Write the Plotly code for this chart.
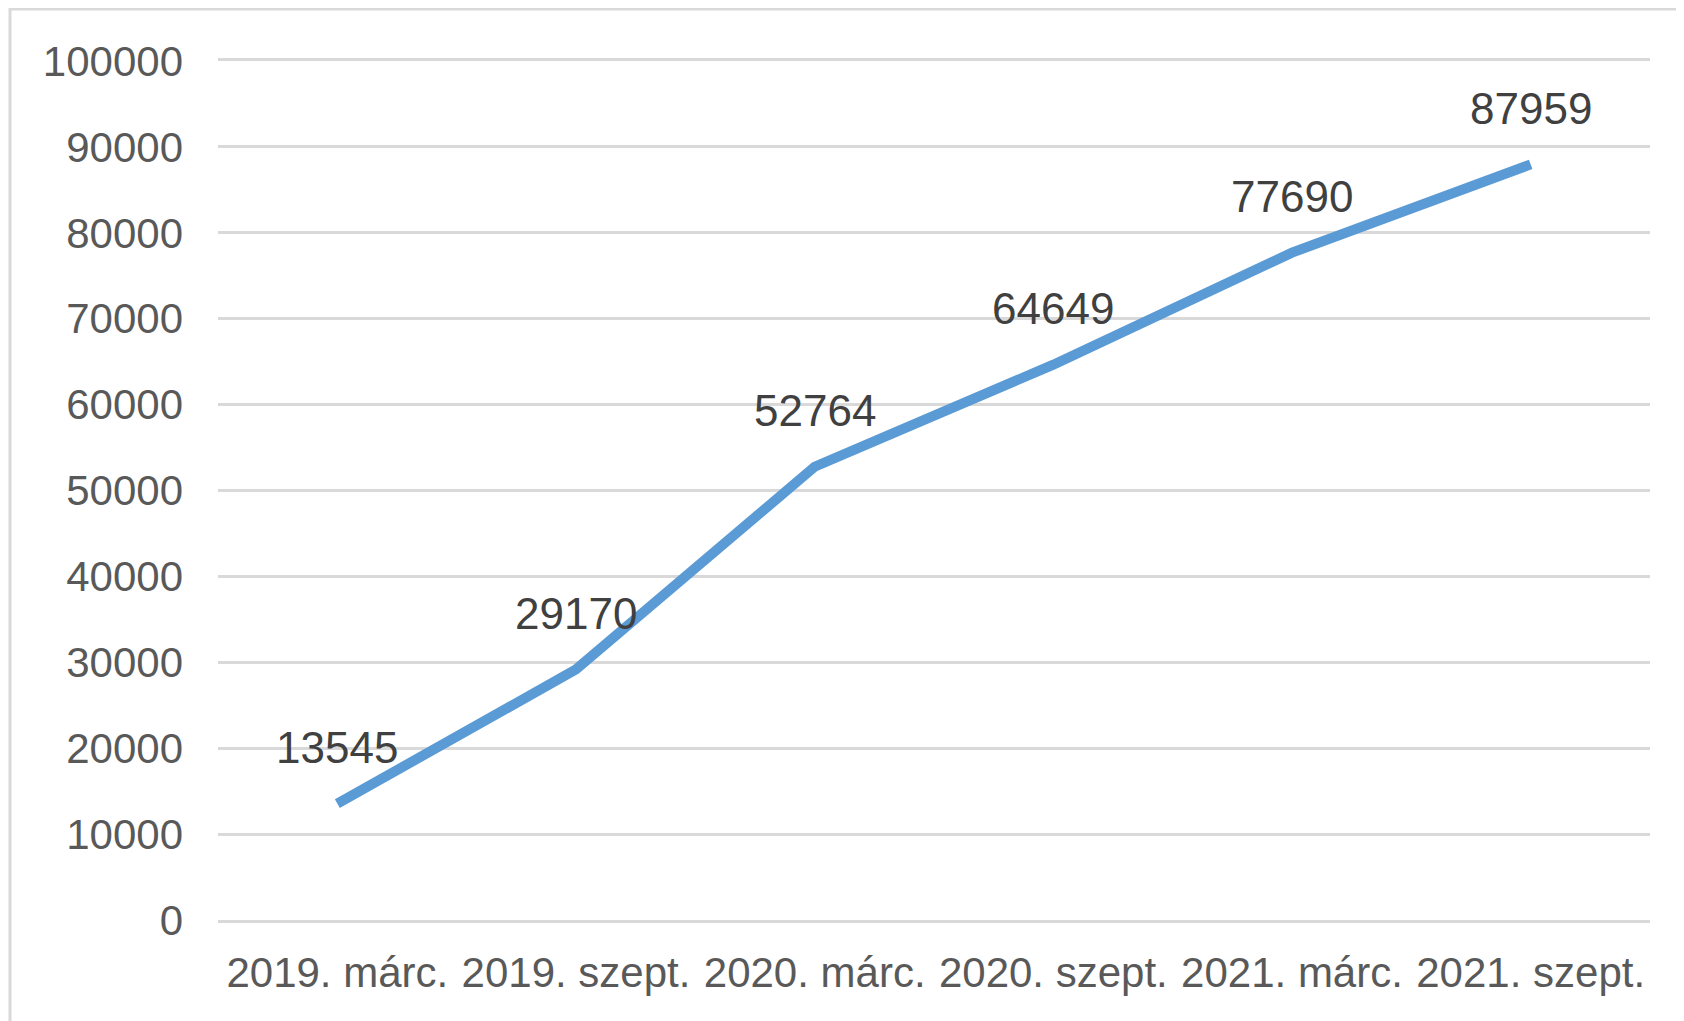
import plotly.graph_objects as go

categories = ["2019. márc.", "2019. szept.", "2020. márc.", "2020. szept.", "2021. márc.", "2021. szept."]
values = [13545, 29170, 52764, 64649, 77690, 87959]
y_ticks = [0, 10000, 20000, 30000, 40000, 50000, 60000, 70000, 80000, 90000, 100000]
y_tick_text = [str(v) for v in y_ticks]

OFF = 8  # default page body margin
W, H = 1684 - OFF, 1021 - OFF
L, R, T, B = 218 - OFF, 34, 61 - OFF, 101
pw, ph = W - L - R, H - T - B

fig = go.Figure()
fig.add_trace(go.Scatter(
    x=categories, y=values, mode="lines",
    line=dict(color="#5B9BD5", width=10, shape="linear"),
    hoverinfo="skip", showlegend=False,
))

for c, v in zip(categories, values):
    fig.add_annotation(x=c, y=v, text=str(v), showarrow=False, yshift=56,
                       font=dict(family="Liberation Sans, Arial", size=44, color="#404040"))

# outer chart frame (right/bottom edges lie outside the picture)
fig.add_shape(type="rect", xref="paper", yref="paper",
              x0=(10 - OFF - L) / pw, x1=1.2, y0=-0.3, y1=1 + (T - (9 - OFF)) / ph,
              line=dict(color="#D9D9D9", width=3), layer="below")

fig.update_layout(
    width=W, height=H,
    margin=dict(l=L, r=R, t=T, b=B),
    paper_bgcolor="white", plot_bgcolor="white",
    font=dict(family="Liberation Sans, Arial", size=42, color="#595959"),
    xaxis=dict(type="category", range=[-0.5, 5.5], showgrid=False, zeroline=False,
               showline=True, mirror=True, linecolor="#D9D9D9", linewidth=3,
               ticks="", ticklabelstandoff=14, tickfont=dict(size=42, color="#595959")),
    yaxis=dict(range=[0, 100000], tickvals=y_ticks, ticktext=y_tick_text,
               showgrid=True, gridcolor="#D9D9D9",
               gridwidth=3, zeroline=False, showline=False, ticks="",
               ticklabelstandoff=34, tickfont=dict(size=42, color="#595959")),
)

fig.write_html("out.html")
